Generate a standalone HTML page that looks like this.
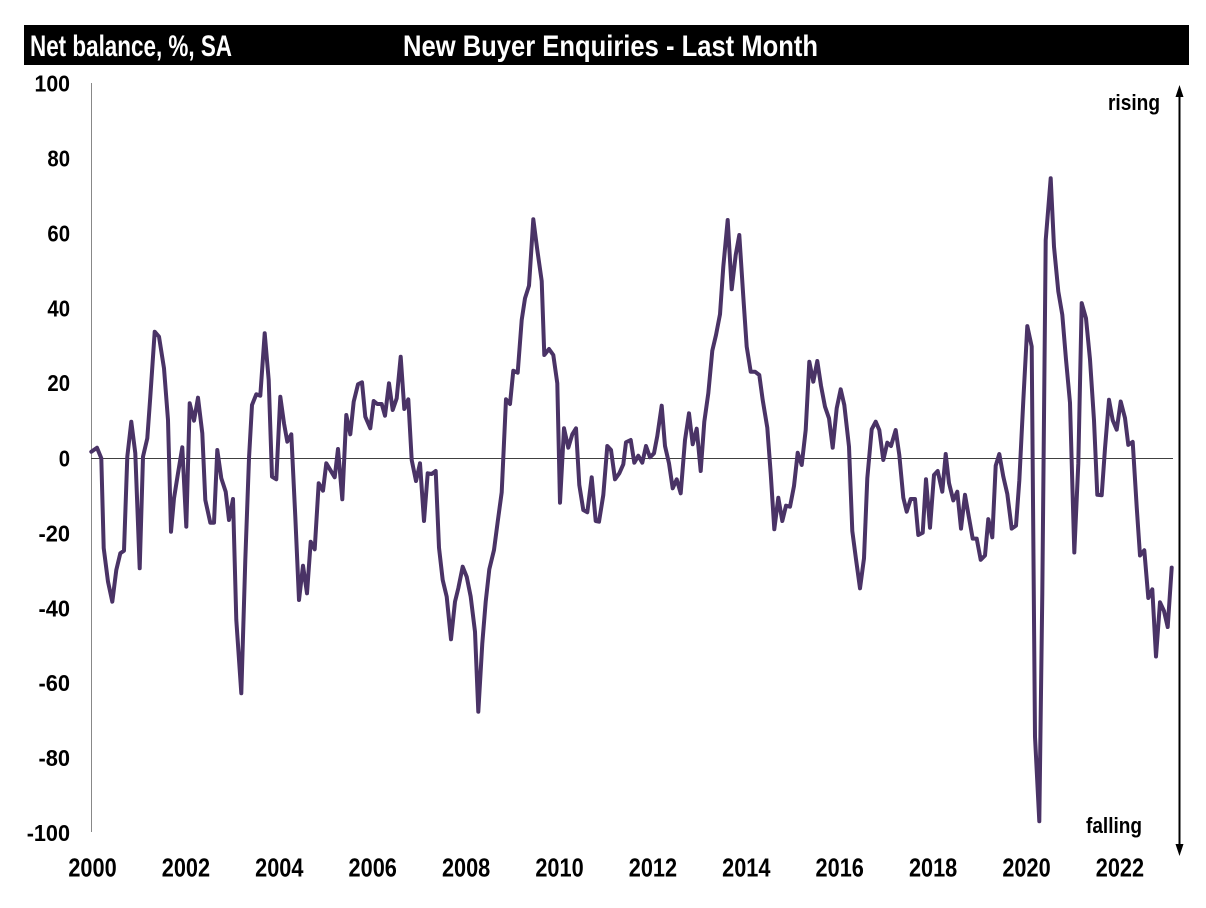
<!DOCTYPE html>
<html>
<head>
<meta charset="utf-8">
<style>
  html, body { margin: 0; padding: 0; background: #ffffff; }
  svg { display: block; }
  text { font-family: "Liberation Sans Narrow", "Liberation Sans", Arial, sans-serif; font-weight: bold; }
</style>
</head>
<body>
<svg width="1206" height="908" viewBox="0 0 1206 908" xmlns="http://www.w3.org/2000/svg">
  <rect x="0" y="0" width="1206" height="908" fill="#ffffff"/>
  <!-- title bar -->
  <rect x="24" y="25" width="1165" height="40" fill="#000000"/>
  <text x="30" y="56" font-size="30" fill="#ffffff" textLength="202" lengthAdjust="spacingAndGlyphs">Net balance, %, SA</text>
  <text x="403" y="56" font-size="30" fill="#ffffff" textLength="415" lengthAdjust="spacingAndGlyphs">New Buyer Enquiries - Last Month</text>

  <!-- y axis -->
  <line x1="91.5" y1="83" x2="91.5" y2="832" stroke="#888888" stroke-width="1"/>
  <!-- zero line -->
  <line x1="91" y1="458.5" x2="1173" y2="458.5" stroke="#404040" stroke-width="1"/>

  <!-- y tick labels -->
  <g font-size="23.5" fill="#000000" text-anchor="end">
    <text x="70" y="91.5" textLength="35.5" lengthAdjust="spacingAndGlyphs">100</text>
    <text x="70" y="166.5" textLength="22.6" lengthAdjust="spacingAndGlyphs">80</text>
    <text x="70" y="241.4" textLength="22.6" lengthAdjust="spacingAndGlyphs">60</text>
    <text x="70" y="316.3" textLength="22.6" lengthAdjust="spacingAndGlyphs">40</text>
    <text x="70" y="391.2" textLength="22.6" lengthAdjust="spacingAndGlyphs">20</text>
    <text x="70" y="466.5" textLength="11.3" lengthAdjust="spacingAndGlyphs">0</text>
    <text x="70" y="541.4" textLength="31.5" lengthAdjust="spacingAndGlyphs">-20</text>
    <text x="70" y="616.3" textLength="31.5" lengthAdjust="spacingAndGlyphs">-40</text>
    <text x="70" y="691.2" textLength="31.5" lengthAdjust="spacingAndGlyphs">-60</text>
    <text x="70" y="766.1" textLength="31.5" lengthAdjust="spacingAndGlyphs">-80</text>
    <text x="70" y="841" textLength="43.3" lengthAdjust="spacingAndGlyphs">-100</text>
  </g>

  <!-- x tick labels -->
  <g font-size="25.5" fill="#000000" text-anchor="middle">
    <text x="92.5" y="876.7" textLength="48.3" lengthAdjust="spacingAndGlyphs">2000</text>
    <text x="185.9" y="876.7" textLength="48.3" lengthAdjust="spacingAndGlyphs">2002</text>
    <text x="279.3" y="876.7" textLength="48.3" lengthAdjust="spacingAndGlyphs">2004</text>
    <text x="372.7" y="876.7" textLength="48.3" lengthAdjust="spacingAndGlyphs">2006</text>
    <text x="466.1" y="876.7" textLength="48.3" lengthAdjust="spacingAndGlyphs">2008</text>
    <text x="559.5" y="876.7" textLength="48.3" lengthAdjust="spacingAndGlyphs">2010</text>
    <text x="652.9" y="876.7" textLength="48.3" lengthAdjust="spacingAndGlyphs">2012</text>
    <text x="746.3" y="876.7" textLength="48.3" lengthAdjust="spacingAndGlyphs">2014</text>
    <text x="839.7" y="876.7" textLength="48.3" lengthAdjust="spacingAndGlyphs">2016</text>
    <text x="933.1" y="876.7" textLength="48.3" lengthAdjust="spacingAndGlyphs">2018</text>
    <text x="1026.5" y="876.7" textLength="48.3" lengthAdjust="spacingAndGlyphs">2020</text>
    <text x="1119.9" y="876.7" textLength="48.3" lengthAdjust="spacingAndGlyphs">2022</text>
  </g>

  <!-- rising / falling arrow -->
  <line x1="1179.5" y1="94" x2="1179.5" y2="847" stroke="#000000" stroke-width="2"/>
  <polygon points="1179.5,85 1175.5,97 1183.5,97" fill="#000000"/>
  <polygon points="1179.5,856 1175.5,844 1183.5,844" fill="#000000"/>
  <text x="1108" y="110" font-size="22" fill="#000000" textLength="52" lengthAdjust="spacingAndGlyphs">rising</text>
  <text x="1086" y="833" font-size="22" fill="#000000" textLength="56" lengthAdjust="spacingAndGlyphs">falling</text>

  <!-- series -->
  <polyline fill="none" stroke="#4a3366" stroke-width="4" stroke-linejoin="round" stroke-linecap="round" points="
91.3,451.7 97,447.7 101.3,458.3 103.7,548 108,581.7 112.3,601.7 116.3,570 120.3,553.3 124,550.7 127.3,456.7
131.3,421.7 135.3,453.3 139.7,568.3 143,456.7 147.3,438.3 150.3,396.7 154.7,331.7 159,336.7 164,368.3 168,420
171,531.7 174,498.3 178,473.3 182.3,447.3 186.3,526.7 189.7,403.3 194,420.7 198,397.7 202.3,433.3 205.3,500
210.3,522.7 214,522.7 217.3,450 221.3,478.3 225.7,491.7 229,520 233,499 236.3,620 241.3,693.3 245.3,560
249,458.3 252,405 256.3,394.3 260.3,395.7 264.7,333.3 268.7,380 272,476.7 276.3,479.3 280.3,396.7 284,423.3
287.3,441.7 291.3,434.3 295.3,516.7 299,600 303,565.7 307,593.3 310.7,541.7 314.7,549.3 318.7,483.3 323,490.7
326.3,463.3 334.7,477.3 338,449 342.3,499.3 346.3,415 350.3,434.3 353.7,401.7 358,384.3 362,382.3 365.3,416.7
370.3,428.3 373.7,401 377.3,404 381.7,404 385,415.7 389,383.3 392.7,410 396.7,398.3 400.7,356.7 404.3,409
408.3,399.3 411.7,460 416,481 420,463.3 424,521 427.7,473.3 431.7,474 435.7,471 439,547.7 442.7,580
446.7,596.7 451,639.3 455,601.7 458.3,588.3 462.7,566.7 466.7,576.7 470.7,596.7 475,631.7 478.3,711.7 482.3,643.3
485.7,601.7 489.3,569.3 494,550 497.7,521.7 501.7,492.3 506,399.3 510,404 513.3,370.7 517.7,372.7 521.7,320
525,298.3 529,285.7 533.3,219.3 537.3,250 541.7,281 544.3,355 549,349 553.3,355 557.3,383.3 560,502.7
564,428.3 568.3,447.7 572.3,434.3 576,428.3 579.3,485 583.3,510 587.3,512.3 591.7,477.3 595.7,521 599,521.7
603.3,495 607.3,446 611,450 615,479.3 619.3,473.3 623.3,464.3 626,442.3 630.7,440 634.3,462.7 638.3,455.7
642.3,462.7 646,446 650,457.3 654,453.3 657.3,436 661.7,405.7 665,446 669,463.3 672.7,488.3 676.7,479.3
680.7,493.3 685,440 689,413.3 692.7,444.3 696.7,428.7 700.7,471 704.3,421.7 708.3,393.3 712.3,350.7 716,335
720,314.3 723.3,266.7 727.7,220 731.7,289.3 735.7,255 739.3,235 743.3,296.7 746.7,346.7 750.7,371.7 755,371.7
759.3,375 762.7,400 767.3,427.7 770.7,473.3 774.3,529.3 778.3,497.7 782.3,521 786,505.7 790,506.7 794,486
797.7,452.7 801.7,465 805.7,430 809.3,361.7 813.3,381.7 817.3,361 821,385.7 825,406.7 829,418.3 832.7,447.7
836.7,408.3 840.7,389.3 844.3,405 849,446.7 852.3,531 856,559.3 860,588.3 864,558.3 867.3,478.3 871.7,429.3
875.7,421.7 879.3,430 883.3,460 887.3,442.7 891,446 895.7,430 899.3,455 903.3,497.7 906.7,511.7 910.7,499
915,499 918.3,535 922.7,532.7 926,479.3 930,527.7 934,475 937.7,471 942.3,491.7 945.7,454 949,483
953.3,500.4 957.3,491.7 961,528.6 965,494.8 969,517.8 972.7,538.6 976.7,538.6 980.7,559.8 985,555.5 988.3,519.1
992.3,537.3 995.7,465.7 999.3,454 1003.3,476.6 1007.3,493.9 1011.7,528.6 1016,525.6 1019.3,480.9 1023.3,400.7 1027.3,326.1
1031.7,346.5 1035,736.8 1039.3,821.3 1042.3,593.7 1045.7,240.2 1050.7,178.2 1054,246.7 1058.3,291.4 1062.3,314.8 1066,359.5
1070,402.8 1074.3,552.5 1078.3,463.6 1081.7,303.1 1086,318.3 1090,359.5 1094,420.2 1097.3,494.8 1101.7,495.2 1105,448.4
1109,399.8 1112.7,420.2 1116.7,429.7 1120.7,401.5 1125,418 1128.3,444.9 1132.7,441.9 1136.7,506.9 1140,555.5 1144.3,550.3
1148.3,598 1152.3,589.3 1156,656.5 1160,602.3 1164,611 1167.7,627 1171.7,567.6"/>
</svg>
</body>
</html>
